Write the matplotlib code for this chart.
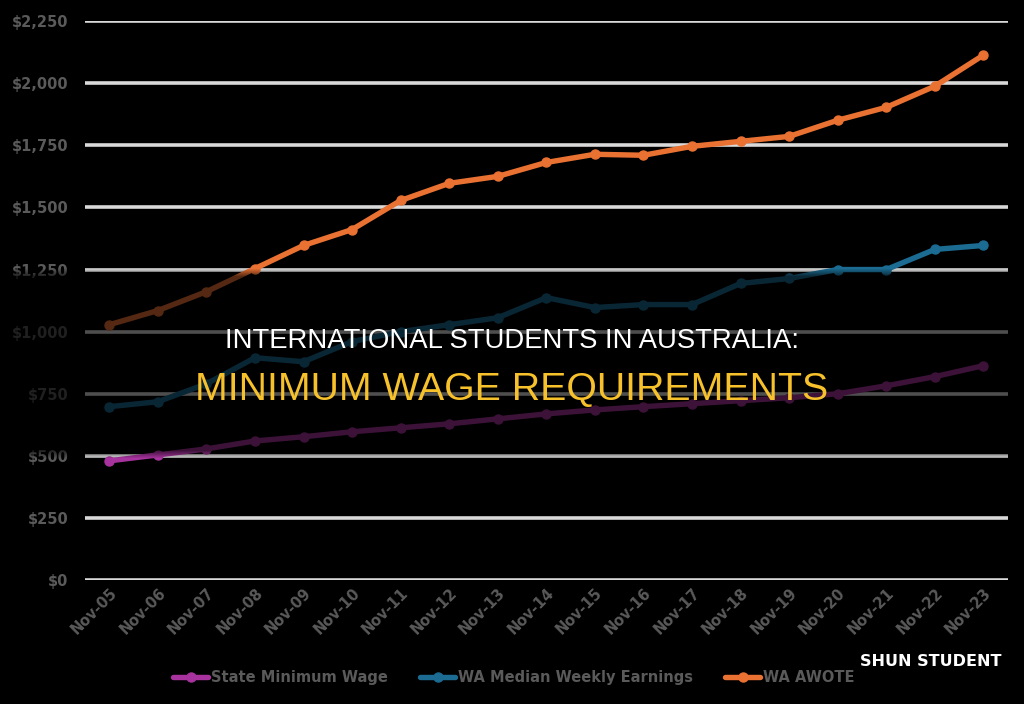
import numpy as np
import matplotlib
matplotlib.use("Agg")
import matplotlib.pyplot as plt
from matplotlib.ticker import FuncFormatter

# data (weekly $, November of each year)
periods = ["Nov-05", "Nov-06", "Nov-07", "Nov-08", "Nov-09", "Nov-10", "Nov-11",
           "Nov-12", "Nov-13", "Nov-14", "Nov-15", "Nov-16", "Nov-17", "Nov-18",
           "Nov-19", "Nov-20", "Nov-21", "Nov-22", "Nov-23"]
min_wage = [480, 504, 528, 560, 577, 597, 613, 629, 649, 669, 685, 698, 710, 722,
            734, 750, 782, 819, 863]
median_earnings = [698, 718, 790, 895, 879, 960, 1000, 1028, 1056, 1137, 1097, 1109,
                   1109, 1194, 1214, 1250, 1250, 1331, 1347]
awote = [1028, 1085, 1161, 1254, 1347, 1411, 1528, 1597, 1625, 1681, 1714, 1710,
         1746, 1766, 1786, 1851, 1903, 1988, 2113]

series = [
    ("State Minimum Wage", min_wage, "#a8329e"),
    ("WA Median Weekly Earnings", median_earnings, "#1b6b92"),
    ("WA AWOTE", awote, "#e97132"),
]

BG = "#000000"
TICK = "#5a5a5a"

fig = plt.figure(figsize=(10.24, 7.04), dpi=100, facecolor=BG)
ax = fig.add_axes([0.083, 0.176, 0.901, 0.794])
ax.set_facecolor(BG)

x = np.arange(len(periods))
for name, vals, color in series:
    ax.plot(x, vals, color=color, lw=3.9, marker="o", ms=6.5, label=name,
            solid_capstyle="round", zorder=3)

ax.set_xlim(-0.5, len(periods) - 0.5)
ax.set_ylim(0, 2250)
ax.set_yticks(np.arange(0, 2251, 250))
ax.yaxis.set_major_formatter(FuncFormatter(lambda v, _: f"${v:,.0f}"))
ax.grid(axis="y", color="#d9d9d9", lw=2.6, zorder=1)
ax.set_axisbelow(True)
for s in ax.spines.values():
    s.set_visible(False)
ax.tick_params(length=0, colors=TICK, labelsize=10.5)
ax.tick_params(axis="y", pad=12)
ax.set_xticks(x)
ax.set_xticklabels(periods, rotation=45, ha="right", rotation_mode="anchor")
for lbl in ax.get_xticklabels() + ax.get_yticklabels():
    lbl.set_fontweight("bold")
    lbl.set_color(TICK)

leg = ax.legend(loc="center", bbox_to_anchor=(0.465, -0.174), ncol=3,
                frameon=False, fontsize=10.5, handlelength=2.4, columnspacing=2.2,
                handletextpad=0.2)
for t in leg.get_texts():
    t.set_color(TICK)
    t.set_fontweight("bold")

# dark band behind the title
h = 704
alpha = np.zeros(h)
top, bot, ramp = 276, 450, 8
for r in range(h):
    if top <= r <= bot:
        alpha[r] = 0.64
    elif top - ramp <= r < top:
        alpha[r] = 0.64 * (r - (top - ramp)) / ramp
    elif bot < r <= bot + ramp:
        alpha[r] = 0.64 * ((bot + ramp) - r) / ramp
band = np.zeros((h, 1, 4))
band[:, 0, 3] = alpha
ov = fig.add_axes([0, 0, 1, 1], zorder=5)
ov.imshow(band, aspect="auto", extent=(0, 1, 0, 1), origin="upper")
ov.set_xlim(0, 1)
ov.set_ylim(0, 1)
ov.axis("off")

title_font = ["Liberation Sans", "DejaVu Sans"]
ov.text(0.5, 1 - 341 / 704, "INTERNATIONAL STUDENTS IN AUSTRALIA:", color="white",
        fontsize=19.8, family=title_font, ha="center", va="center")
ov.text(0.5, 1 - 390 / 704, "MINIMUM WAGE REQUIREMENTS", color="#f7c12b",
        fontsize=28.3, family=title_font, ha="center", va="center")
ov.text(931 / 1024, 1 - 662 / 704, "SHUN STUDENT", color="white", fontsize=11.5,
        fontweight="bold", ha="center", va="center")

fig.savefig("out.png", dpi=100, facecolor=BG)
